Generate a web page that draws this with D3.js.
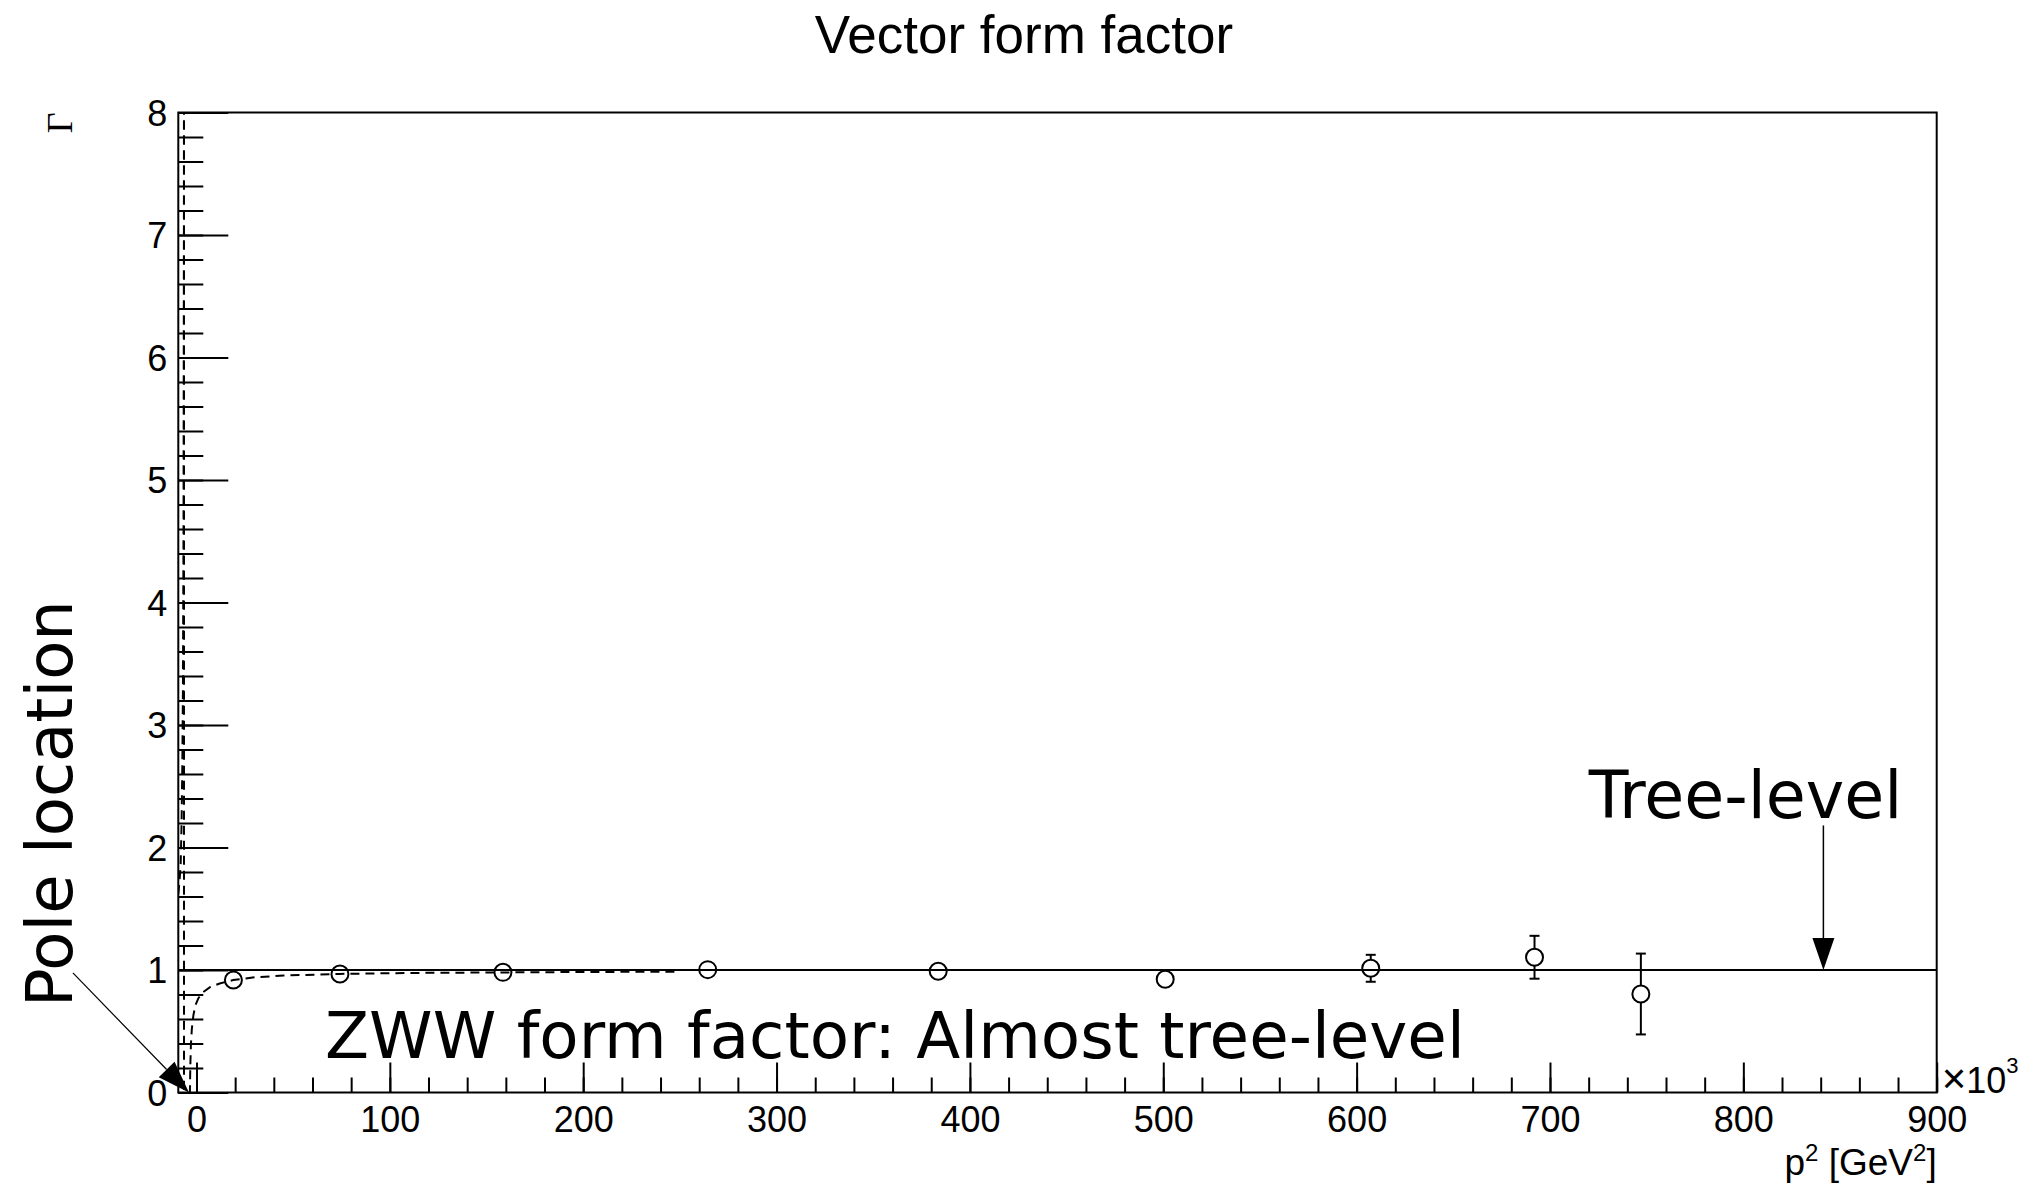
<!DOCTYPE html>
<html>
<head>
<meta charset="utf-8">
<script src="https://cdn.jsdelivr.net/npm/d3@7"></script>
<style>
  body { margin: 0; background: #fff; }
  svg { display: block; }
  .axis .tick text { font-family: "Liberation Sans", Arial, sans-serif; font-size: 36px; fill: #000; }
  .axis .tick line { stroke: #000; stroke-width: 2; }
  .axis .domain { display: none; }
</style>
</head>
<body>
<div id="container"></div>
<script>
// data points (p^2 in units of 10^3 GeV^2)
const pointX   = [19.1, 74.2, 158.5, 264.4, 383.6, 501.0, 607.3, 692.0, 747.0];
const pointY   = [0.918, 0.967, 0.981, 1.003, 0.990, 0.924, 1.014, 1.104, 0.804];
const pointErr = [0.02, 0.02, 0.02, 0.02, 0.03, 0.04, 0.11, 0.175, 0.33];

// dashed fit curve (left branch, pole, right branch)
const curveX = [-9.4, -8.8, -8.2, -7.7, -7.3, -7.0, -6.7, -6.5, -6.45, -6.44,
                -3.4, -3.2, -2.9, -2.4, -1.6, -0.6, 1, 3.5, 7, 12, 19, 30, 45, 74, 110, 158, 200, 250];
const curveY = [1.62, 1.72, 1.85, 2.2, 2.7, 3.3, 4.6, 7.0, 9.0, -1.0,
                0.0, 0.2, 0.38, 0.52, 0.63, 0.71, 0.77, 0.82, 0.86, 0.89, 0.918, 0.94, 0.955, 0.968, 0.976, 0.98, 0.984, 0.986];

const treeLevel = 1;

const xTicks = [0, 100, 200, 300, 400, 500, 600, 700, 800, 900];
const yTicks = [0, 1, 2, 3, 4, 5, 6, 7, 8];
const xMinorStep = 20;
const yMinorStep = 0.2;

const W = 2038, H = 1184;
const margin = {top: 112.5, right: 101.3, bottom: 91.5, left: 178.3};
const width = W - margin.left - margin.right;
const height = H - margin.top - margin.bottom;

const svg = d3.select("#container").append("svg")
  .attr("width", W)
  .attr("height", H)
  .style("background", "#fff");

const x = d3.scaleLinear().domain([-9.4, 900]).range([0, width]);
const y = d3.scaleLinear().domain([0, 8]).range([height, 0]);

const g = svg.append("g").attr("transform", `translate(${margin.left},${margin.top})`);

g.append("clipPath").attr("id", "plotclip")
  .append("rect").attr("width", width).attr("height", height);

// minor ticks
g.append("g").attr("class", "axis")
  .attr("transform", `translate(0,${height})`)
  .call(d3.axisBottom(x).tickValues(d3.range(0, 900.1, xMinorStep)).tickSize(-15).tickSizeOuter(0).tickFormat(""));
g.append("g").attr("class", "axis")
  .call(d3.axisLeft(y).tickValues(d3.range(0, 8.01, yMinorStep)).tickSize(-25).tickSizeOuter(0).tickFormat(""));

// major ticks
g.append("g").attr("class", "axis")
  .attr("transform", `translate(0,${height})`)
  .call(d3.axisBottom(x).tickValues(xTicks).tickSize(-30).tickSizeOuter(0).tickPadding(14).tickFormat(d3.format("d")));
g.append("g").attr("class", "axis")
  .call(d3.axisLeft(y).tickValues(yTicks).tickSize(-50).tickSizeOuter(0).tickPadding(11).tickFormat(d3.format("d")))
  .selectAll("text").attr("dy", "0.36em");

// frame
g.append("rect")
  .attr("width", width)
  .attr("height", height)
  .attr("fill", "none")
  .attr("stroke", "#000")
  .attr("stroke-width", 2);

// tree-level line
g.append("line")
  .attr("x1", x(x.domain()[0])).attr("x2", x(x.domain()[1]))
  .attr("y1", y(treeLevel)).attr("y2", y(treeLevel))
  .attr("stroke", "#000").attr("stroke-width", 2.2);

// dashed curve
const curve = curveX.map((d, i) => ({x: d, y: curveY[i]}));
g.append("path")
  .datum(curve)
  .attr("clip-path", "url(#plotclip)")
  .attr("fill", "none")
  .attr("stroke", "#000")
  .attr("stroke-width", 2)
  .attr("stroke-dasharray", "9 6")
  .attr("d", d3.line().x(d => x(d.x)).y(d => y(d.y)));

// points with error bars
const r = 8.5;
const pts = pointX.map((d, i) => ({x: d, y: pointY[i], e: pointErr[i]}));
pts.forEach(p => {
  const cx = x(p.x), cy = y(p.y);
  const top = y(p.y + p.e), bot = y(p.y - p.e);
  if (cy - top > r) {
    g.append("line").attr("x1", cx).attr("x2", cx).attr("y1", top).attr("y2", cy - r)
      .attr("stroke", "#000").attr("stroke-width", 2);
    g.append("line").attr("x1", cx - 5).attr("x2", cx + 5).attr("y1", top).attr("y2", top)
      .attr("stroke", "#000").attr("stroke-width", 2);
  }
  if (bot - cy > r) {
    g.append("line").attr("x1", cx).attr("x2", cx).attr("y1", cy + r).attr("y2", bot)
      .attr("stroke", "#000").attr("stroke-width", 2);
    g.append("line").attr("x1", cx - 5).attr("x2", cx + 5).attr("y1", bot).attr("y2", bot)
      .attr("stroke", "#000").attr("stroke-width", 2);
  }
  g.append("circle").attr("cx", cx).attr("cy", cy).attr("r", r)
    .attr("fill", "none").attr("stroke", "#000").attr("stroke-width", 2);
});

// arrows
function arrow(x1, y1, x2, y2, lw) {
  const X1 = x(x1), Y1 = y(y1), X2 = x(x2), Y2 = y(y2);
  const len = Math.hypot(X2 - X1, Y2 - Y1);
  const ux = (X2 - X1) / len, uy = (Y2 - Y1) / len;
  const hl = 32, hw = 11;
  const bx = X2 - ux * hl, by = Y2 - uy * hl;
  g.append("line").attr("x1", X1).attr("y1", Y1).attr("x2", bx).attr("y2", by)
    .attr("stroke", "#000").attr("stroke-width", lw);
  g.append("path")
    .attr("d", `M${X2},${Y2}L${bx - uy * hw},${by + ux * hw}L${bx + uy * hw},${by - ux * hw}Z`)
    .attr("fill", "#000");
}
arrow(841.4, 2.18, 841.4, 1.0, 1.5);
arrow(-63.9, 0.976, -3.9, 0.0, 1.2);

// annotations
const annFont = "'DejaVu Sans', Verdana, sans-serif";
g.append("text")
  .attr("x", x(720.1)).attr("y", y(2.243))
  .style("font-family", annFont).style("font-size", "65px")
  .text("Tree-level");
g.append("text")
  .attr("x", x(66.5)).attr("y", y(0.282))
  .style("font-family", annFont).style("font-size", "64.3px")
  .text("ZWW form factor: Almost tree-level");
svg.append("text")
  .attr("transform", `translate(71.5,1007) rotate(-90)`)
  .style("font-family", annFont).style("font-size", "64px")
  .text("Pole location");

// title and axis titles
svg.append("text")
  .attr("x", 1024).attr("y", 53)
  .attr("text-anchor", "middle")
  .style("font-family", "'Liberation Sans', Arial, sans-serif").style("font-size", "53px")
  .text("Vector form factor");

svg.append("text")
  .attr("transform", `translate(72,${margin.top}) rotate(-90)`)
  .attr("text-anchor", "end")
  .style("font-family", "'Liberation Serif', 'DejaVu Serif', serif").style("font-size", "36px")
  .text("Γ");

const xt = svg.append("text")
  .attr("x", margin.left + width).attr("y", 1175)
  .attr("text-anchor", "end")
  .style("font-family", "'Liberation Sans', Arial, sans-serif").style("font-size", "37px");
xt.append("tspan").text("p");
xt.append("tspan").attr("dy", -14).style("font-size", "24px").text("2");
xt.append("tspan").attr("dy", 14).text(" [GeV");
xt.append("tspan").attr("dy", -14).style("font-size", "24px").text("2");
xt.append("tspan").attr("dy", 14).text("]");

const ex = svg.append("text")
  .attr("x", margin.left + width + 5).attr("y", margin.top + height)
  .style("font-family", "'Liberation Sans', Arial, sans-serif").style("font-size", "36px");
ex.append("tspan").style("font-size", "42px").text("×");
ex.append("tspan").text("10");
ex.append("tspan").attr("dy", -20).style("font-size", "22px").text("3");
</script>
</body>
</html>
